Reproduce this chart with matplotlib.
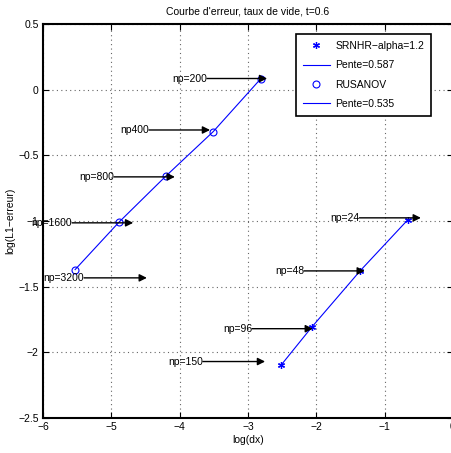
import matplotlib.pyplot as plt

plt.rcParams['font.family'] = ['Liberation Sans', 'DejaVu Sans']

# data (natural log)
rus_x = [-5.53, -4.89, -4.20, -3.51, -2.81]
rus_y = [-1.37, -1.01, -0.657, -0.32, 0.085]
srn_x = [-2.52, -2.07, -1.36, -0.66]
srn_y = [-2.10, -1.81, -1.38, -0.99]

# annotations: label, arrow tail x, arrow head x, y
ann_labels = ['np=200', 'np400', 'np=800', 'np=1600', 'np=3200',
              'np=24', 'np=48', 'np=96', 'np=150']
ann_x0 = [-3.60, -4.45, -4.96, -5.575, -5.40, -1.37, -2.18, -2.94, -3.66]
ann_x1 = [-2.72, -3.555, -4.07, -4.68, -4.48, -0.47, -1.29, -2.05, -2.75]
ann_y = [0.085, -0.307, -0.664, -1.014, -1.433, -0.976, -1.38, -1.82, -2.07]

fig = plt.figure(figsize=(4.52, 4.53), dpi=100)
ax = fig.add_axes([43/452, 35/453, 410/452, 394/453])

ax.plot(srn_x, srn_y, marker=(6, 2, 0), ls='none', color='blue', ms=5, mew=0.9,
        label='SRNHR\u2212alpha=1.2')
ax.plot(srn_x, srn_y, '-', color='blue', lw=0.8, label='Pente=0.587')
ax.plot(rus_x, rus_y, 'o', color='blue', mfc='none', ms=5, mew=0.8, label='RUSANOV')
ax.plot(rus_x, rus_y, '-', color='blue', lw=0.8, label='Pente=0.535')

for lab, x0, x1, y in zip(ann_labels, ann_x0, ann_x1, ann_y):
    ax.annotate('', xy=(x1, y), xytext=(x0, y),
                arrowprops=dict(arrowstyle='-|>', color='k', lw=1, mutation_scale=11,
                                shrinkA=0, shrinkB=0))
    ax.text(x0, y, lab, ha='right', va='center', fontsize=7.5)

ax.set_xlim(-6, 0)
ax.set_ylim(-2.5, 0.5)
ax.set_xticks([-6, -5, -4, -3, -2, -1, 0])
ax.set_yticks([-2.5, -2, -1.5, -1, -0.5, 0, 0.5])
ax.set_xticklabels(['\u22126', '\u22125', '\u22124', '\u22123', '\u22122', '\u22121', '0'])
ax.set_yticklabels(['\u22122.5', '\u22122', '\u22121.5', '\u22121', '\u22120.5', '0', '0.5'])
ax.grid(True, linestyle=(0, (1, 3)), color='0.4', lw=0.8)
ax.tick_params(direction='in', top=True, right=True, labelsize=7.5, length=4, pad=3)
for s in ax.spines.values():
    s.set_linewidth(1.5)

ax.set_xlabel('log(dx)', fontsize=7.5, labelpad=2)
ax.set_ylabel('log(L1\u2212erreur)', fontsize=7.5, labelpad=2)
ax.set_title("Courbe d'erreur, taux de vide, t=0.6", fontsize=7.5, pad=7)

leg = ax.legend(loc='upper right', bbox_to_anchor=(0.960, 0.989), fontsize=7.5,
                fancybox=False, framealpha=1, edgecolor='k', handlelength=2.6,
                labelspacing=0.9, borderpad=0.7, handletextpad=0.5)
leg.get_frame().set_linewidth(1.2)

fig.savefig('out.png', dpi=100)
